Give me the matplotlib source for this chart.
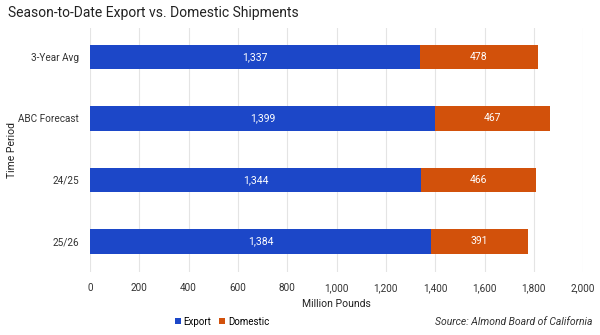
import matplotlib
matplotlib.use("Agg")
import matplotlib.pyplot as plt
from matplotlib.ticker import FuncFormatter

# Season-to-date shipments, million pounds
periods = ["3-Year Avg", "ABC Forecast", "24/25", "25/26"]
export = [1337, 1399, 1344, 1384]
domestic = [478, 467, 466, 391]
x_ticks = [0, 200, 400, 600, 800, 1000, 1200, 1400, 1600, 1800, 2000]

EXPORT_COLOR = "#1c47c8"
DOMESTIC_COLOR = "#d2510b"

plt.rcParams["font.family"] = ["Roboto", "DejaVu Sans"]

fig = plt.figure(figsize=(6, 3.35), dpi=100)
ax = fig.add_axes([0.15, 0.188, 0.822, 0.728])

pos = list(range(len(periods)))
b1 = ax.barh(pos, export, height=0.4, color=EXPORT_COLOR, label="Export", zorder=3)
b2 = ax.barh(pos, domestic, left=export, height=0.4, color=DOMESTIC_COLOR,
             label="Domestic", zorder=3)

for bars, vals in ((b1, export), (b2, domestic)):
    ax.bar_label(bars, labels=[f"{v:,}" for v in vals], label_type="center",
                 color="white", fontsize=7.5)

ax.set_ylim(3.5, -0.47)
ax.set_xlim(0, 2000)
ax.set_yticks(pos)
ax.set_yticklabels(periods)
ax.set_xticks(x_ticks)
ax.xaxis.set_major_formatter(FuncFormatter(lambda v, _: f"{int(v):,}"))
ax.tick_params(axis="both", length=0, labelsize=7.2, colors="#333333")
ax.tick_params(axis="x", pad=8)
ax.tick_params(axis="y", pad=8)
ax.grid(axis="x", color="#e4e4e4", linewidth=0.8, zorder=0)
for s in ax.spines.values():
    s.set_visible(False)

ax.set_xlabel("Million Pounds", fontsize=7.5, color="#222222", labelpad=4)
ax.set_ylabel("Time Period", fontsize=7.5, color="#222222")
ax.yaxis.set_label_coords(-0.148, 0.5)

fig.text(0.013, 0.96, "Season-to-Date Export vs. Domestic Shipments",
         fontsize=10, color="#222222", va="center", ha="left")

fig.legend(handles=[b1, b2], loc="center", bbox_to_anchor=(0.37, 0.04),
           ncol=2, frameon=False, fontsize=7, handlelength=0.6, handleheight=0.6,
           handletextpad=0.3, columnspacing=0.8)

fig.text(0.987, 0.04, "Source: Almond Board of California", fontsize=7.5,
         style="italic", color="#333333", ha="right", va="center")

fig.savefig("out.png", dpi=100)
